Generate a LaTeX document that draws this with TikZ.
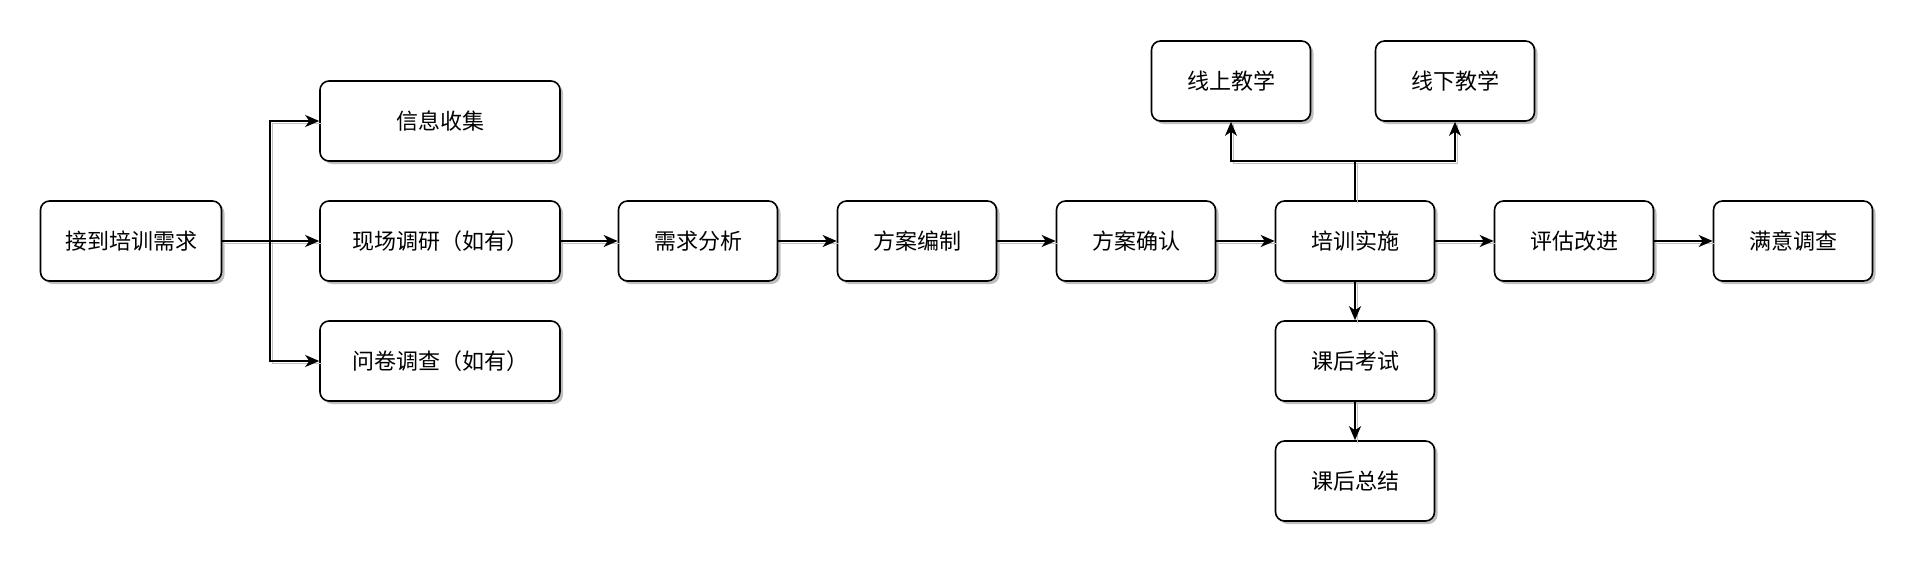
\documentclass[tikz,border=0pt]{standalone}
\usepackage{fontspec}
\setmainfont{Noto Sans CJK SC}
\usetikzlibrary{shadows,arrows.meta}
\begin{document}
\begin{tikzpicture}[x=1pt,y=-1pt,
  box/.style={draw,line width=1.6pt,rounded corners=9pt,fill=white,minimum height=80pt,inner sep=0pt,font=\fontsize{22}{26}\selectfont,
    drop shadow={shadow xshift=3pt,shadow yshift=-3pt,fill=black!25,opacity=1}},
  conn/.style={line width=1.6pt,-{Stealth[length=14pt,width=12pt,inset=4pt]},
    preaction={draw=black!25,-,line width=1.6pt,transform canvas={shift={(2.5pt,-2.5pt)}}}}]
\useasboundingbox (0,0) rectangle (1920,568);
\node[box,minimum width=181pt] (a) at (131,241) {接到培训需求};
\node[box,minimum width=240pt] (b1) at (440,121) {信息收集};
\node[box,minimum width=240pt] (b2) at (440,241) {现场调研（如有）};
\node[box,minimum width=240pt] (b3) at (440,361) {问卷调查（如有）};
\node[box,minimum width=159pt] (c) at (698,241) {需求分析};
\node[box,minimum width=159pt] (d) at (917,241) {方案编制};
\node[box,minimum width=159pt] (e) at (1136,241) {方案确认};
\node[box,minimum width=159pt] (f) at (1355,241) {培训实施};
\node[box,minimum width=159pt] (g) at (1574,241) {评估改进};
\node[box,minimum width=159pt] (h) at (1793,241) {满意调查};
\node[box,minimum width=159pt] (u1) at (1231,81) {线上教学};
\node[box,minimum width=159pt] (u2) at (1455,81) {线下教学};
\node[box,minimum width=159pt] (k1) at (1355,361) {课后考试};
\node[box,minimum width=159pt] (k2) at (1355,481) {课后总结};
\coordinate (j) at (270,241);
\coordinate (t) at (1355,161);
\draw[conn] (a.east) -- (j) |- (b1.west);
\draw[conn] (a.east) -- (b2.west);
\draw[conn] (j) |- (b3.west);
\draw[conn] (b2) -- (c);
\draw[conn] (c) -- (d);
\draw[conn] (d) -- (e);
\draw[conn] (e) -- (f);
\draw[conn] (f) -- (g);
\draw[conn] (g) -- (h);
\draw[conn] (f.north) -- (t) -| (u1.south);
\draw[conn] (t) -| (u2.south);
\draw[conn] (f) -- (k1);
\draw[conn] (k1) -- (k2);
\end{tikzpicture}
\end{document}
